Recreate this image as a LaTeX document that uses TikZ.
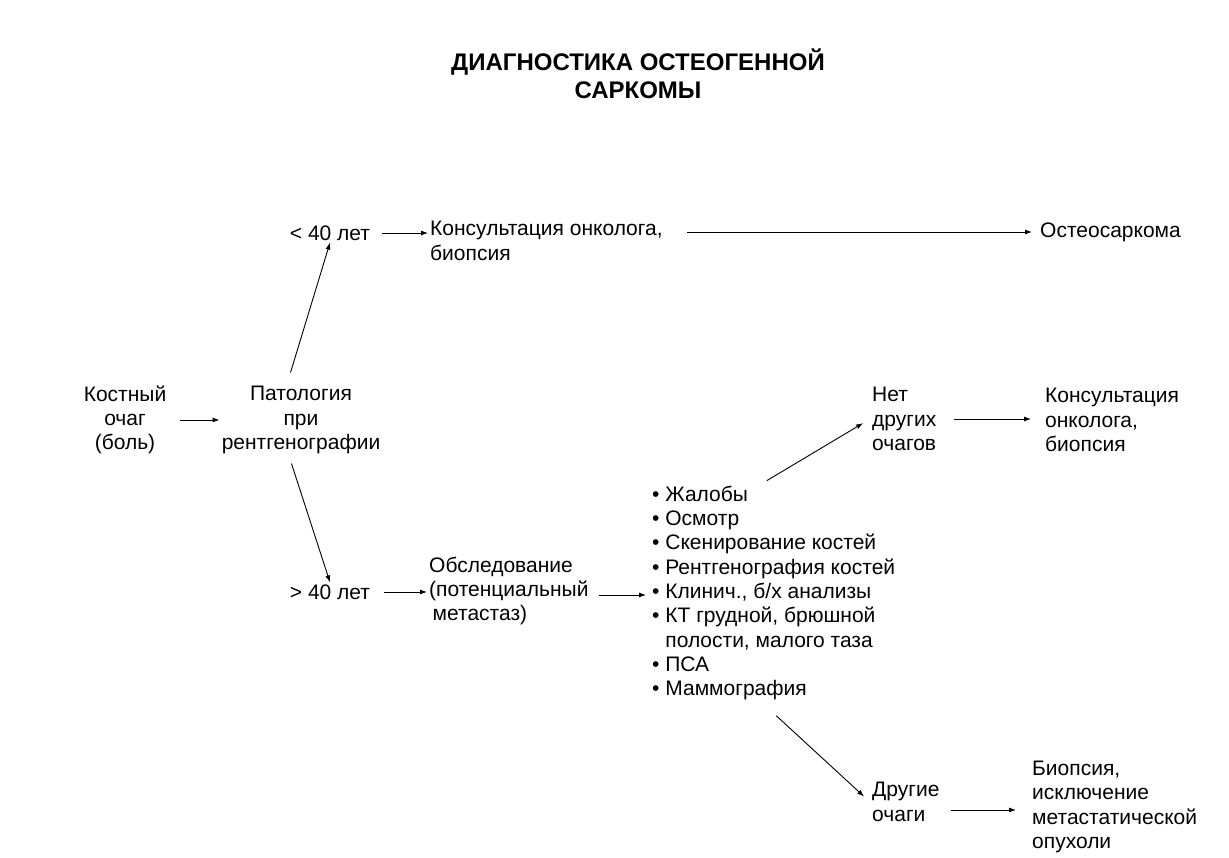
\documentclass[tikz,border=0pt]{standalone}
\usepackage{fontspec}
\setmainfont{Liberation Sans}
\usetikzlibrary{arrows.meta}

\tikzset{
    txt/.style={font=\fontsize{21}{24.3}\selectfont, inner sep=2pt},
    arr/.style={-{Latex[length=7pt,width=5pt]}, line width=0.9pt},
}

\begin{document}
\begin{tikzpicture}[x=1pt,y=-1pt]
    \useasboundingbox (0,0) rectangle (1229,858);

    % Title
    \node[font=\bfseries\fontsize{24}{28}\selectfont, align=center] (title) at (638,74) {ДИАГНОСТИКА ОСТЕОГЕННОЙ\\САРКОМЫ};

    % Start
    \node[txt, align=center] (ochag) at (125,420) {Костный\\очаг\\(боль)};
    \node[txt, align=center] (pat) at (301,420) {Патология\\при\\рентгенографии};
    \draw[arr, shorten <=12pt] (ochag.east) -- (pat.west);

    % Upper branch
    \node[txt] (lt) at (330,233) {< 40 лет};
    \node[txt, anchor=west, align=left] (kons1) at (428,241) {Консультация онколога,\\биопсия};
    \node[txt, anchor=west] (osteo) at (1038,232) {Остеосаркома};
    \draw[arr, shorten <=12pt] ([xshift=-14pt]pat.north) -- (lt.south);
    \draw[arr, shorten <=10pt] (lt.east) -- (lt.east -| kons1.west);
    \draw[arr, shorten <=22pt, shorten >=6pt] (kons1.east |- osteo) -- (osteo.west);

    % Lower branch
    \node[txt] (gt) at (330,592) {> 40 лет};
    \node[txt, anchor=west, align=left] (obsl) at (427,591) {Обследование\\(потенциальный\\\,метастаз)};
    \node[txt, anchor=west, align=left] (list) at (650,593) {•~Жалобы\\•~Осмотр\\•~Скенирование костей\\•~Рентгенография костей\\•~Клинич., б/х анализы\\•~КТ грудной, брюшной\\\hphantom{•~}полости, малого таза\\•~ПСА\\•~Маммография};
    \draw[arr, shorten <=8pt] ([xshift=-12pt]pat.south) -- (gt.north);
    \draw[arr, shorten <=12pt] (gt.east) -- (gt.east -| obsl.west);
    \draw[arr, shorten <=8pt, shorten >=4pt] ([yshift=-4pt]obsl.east) -- ([yshift=-4pt]obsl.east -| list.west);

    % Right part
    \node[txt, anchor=west, align=left] (net) at (870,419) {Нет\\других\\очагов};
    \node[txt, anchor=west, align=left] (kons2) at (1043,420) {Консультация\\онколога,\\биопсия};
    \node[txt, anchor=west, align=left] (drug) at (870,802) {Другие\\очаги};
    \node[txt, anchor=west, align=left] (biop) at (1030,807) {Биопсия,\\исключение\\метастатической\\опухоли};
    \draw[arr, shorten <=6pt, shorten >=8pt] ([xshift=-12pt]list.north) -- (net.west);
    \draw[arr, shorten <=16pt, shorten >=12pt] (net.east) -- (net.east -| kons2.west);
    \draw[arr, shorten <=20pt, shorten >=8pt] ([xshift=-12pt]list.south) -- (drug.west);
    \draw[arr, shorten <=9pt, shorten >=14pt] ([yshift=-8pt]drug.east) -- ([yshift=-8pt]drug.east -| biop.west);
\end{tikzpicture}
\end{document}
